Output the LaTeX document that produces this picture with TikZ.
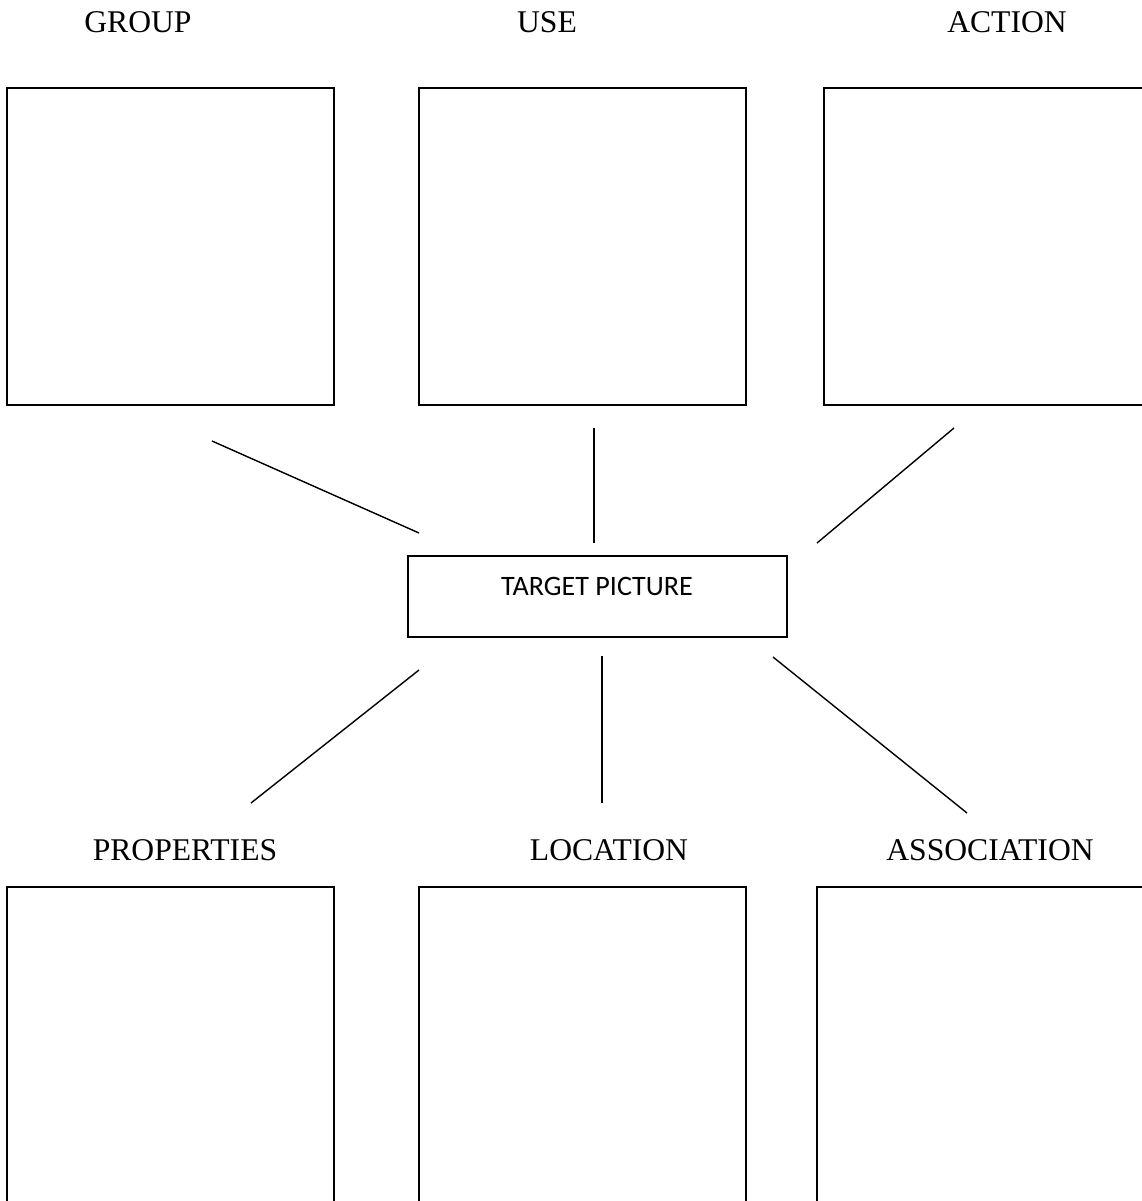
\documentclass[tikz,border=0pt]{standalone}
\usepackage{fontspec}
\setmainfont{Liberation Serif}
\newfontfamily\boxfont{Carlito}
\begin{document}
\begin{tikzpicture}[x=0.02cm,y=-0.02cm]

        \clip (0,0) rectangle (1142,1201);

        % category titles
        \begin{scope}[every node/.style={font=\fontsize{18}{20}\selectfont}]
          \node (tgroup) at (138,22)  {GROUP};
          \node (tuse)   at (547,22)  {USE};
          \node (taction) at (1007,22) {ACTION};
          \node (tprop)  at (185,850) {PROPERTIES};
          \node (tloc)   at (609,850) {LOCATION};
          \node (tassoc) at (990,850) {ASSOCIATION};
        \end{scope}

        % empty boxes
        \begin{scope}[every node/.style={draw,line width=1pt,minimum width=6.54cm,minimum height=6.34cm}]
          \node (group)  at (170.5,246.5) {};
          \node (use)    at (582.5,246.5) {};
          \node (action) at (987.5,246.5) {};
        \end{scope}
        \begin{scope}[every node/.style={draw,line width=1pt,minimum width=6.54cm,minimum height=8cm}]
          \node (prop)  at (170.5,1087) {};
          \node (loc)   at (582.5,1087) {};
          \node (assoc) at (980.5,1087) {};
        \end{scope}

        \node[draw,line width=1pt,minimum width=7.58cm,minimum height=1.62cm] (target) at (597.5,596.5) {};
        \node[font=\boxfont\fontsize{16}{18}\selectfont] (ttarget) at (597,586) {TARGET PICTURE};

        % loose ends of the spokes
        \coordinate (a1) at (212,441);  \coordinate (a2) at (419,533);
        \coordinate (b1) at (594,428);  \coordinate (b2) at (594,543);
        \coordinate (c1) at (954,428);  \coordinate (c2) at (817,543);
        \coordinate (d1) at (419,670);  \coordinate (d2) at (251,803);
        \coordinate (e1) at (602,656);  \coordinate (e2) at (602,803);
        \coordinate (f1) at (773,657);  \coordinate (f2) at (967,813);

        \begin{scope}[every edge/.style={draw,line width=0.8pt}]
          \path (a1) edge (a2);
          \path (b1) edge (b2);
          \path (c1) edge (c2);
          \path (d1) edge (d2);
          \path (e1) edge (e2);
          \path (f1) edge (f2);
        \end{scope}

      \end{tikzpicture}
\end{document}
